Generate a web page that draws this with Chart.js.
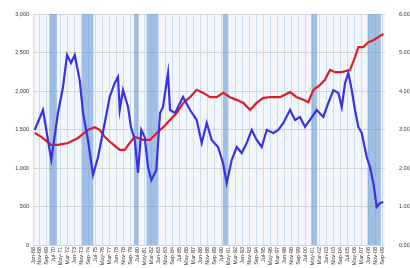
<!DOCTYPE html>
<html>
<head>
<meta charset="utf-8">
<script src="https://cdn.jsdelivr.net/npm/chart.js@4.4.1/dist/chart.umd.min.js"></script>
<style>
html,body{margin:0;padding:0;background:#fff;}
#wrap{width:410px;height:268px;}
</style>
</head>
<body>
<div id="wrap"><canvas id="c" width="410" height="268"></canvas></div>
<script>
// Housing starts (thousands, left axis) — dates as decimal years
const startsDates = [1968.20,1969.19,1969.59,1970.18,1970.98,1971.58,1972.06,1972.53,1972.98,1973.57,1973.97,1974.56,1975.16,1975.76,1976.56,1977.15,1977.75,1978.14,1978.35,1978.74,1979.34,1979.69,1980.14,1980.53,1980.92,1981.33,1981.72,1982.12,1982.71,1983.16,1983.51,1984.11,1984.35,1984.95,1985.90,1986.74,1987.53,1988.13,1988.73,1989.32,1990.08,1990.67,1991.11,1991.71,1992.31,1992.90,1993.50,1994.10,1994.69,1995.29,1995.89,1996.68,1997.27,1997.87,1998.67,1999.26,1999.86,2000.46,2001.05,2001.85,2002.64,2003.24,2003.84,2004.43,2004.84,2005.23,2005.63,2006.03,2006.42,2006.82,2007.22,2007.82,2008.21,2008.61,2009.01,2009.41,2009.80];
const startsValues = [1494,1753,1494,1104,1715,2052,2468,2364,2468,2143,1715,1364,909,1143,1585,1923,2104,2182,1753,2013,1792,1533,1364,935,1494,1403,1013,844,974,1715,1792,2234,1753,1715,1923,1753,1624,1325,1585,1364,1273,1065,805,1104,1273,1195,1325,1494,1364,1273,1494,1455,1494,1585,1753,1624,1663,1533,1624,1753,1663,1845,2013,1974,1792,2104,2234,2013,1753,1533,1455,1143,1013,805,494,546,559];

// Ratio series (right axis)
const ratioDates = [1968.20,1968.99,1970.18,1970.98,1972.18,1973.37,1974.56,1975.36,1975.96,1976.56,1977.34,1978.35,1978.94,1979.54,1980.14,1981.13,1981.96,1982.76,1983.55,1984.35,1985.15,1985.94,1986.74,1987.53,1988.32,1989.12,1989.92,1990.71,1991.51,1992.31,1993.10,1993.90,1994.69,1995.48,1996.28,1997.47,1998.67,1999.47,2000.26,2000.85,2001.45,2002.25,2002.84,2003.44,2004.04,2004.84,2005.83,2006.42,2006.82,2007.42,2008.01,2008.61,2009.20,2009.80];
const ratioValues = [2.91,2.81,2.60,2.60,2.65,2.78,2.99,3.06,2.99,2.81,2.65,2.47,2.47,2.65,2.81,2.73,2.73,2.91,3.06,3.25,3.43,3.69,3.84,4.03,3.95,3.84,3.84,3.95,3.84,3.77,3.69,3.51,3.69,3.82,3.84,3.84,3.97,3.84,3.77,3.71,4.03,4.16,4.29,4.55,4.49,4.49,4.55,4.88,5.14,5.14,5.27,5.32,5.40,5.48];

// Recession periods (decimal years)
const recessionStart = [1969.95,1973.85,1980.05,1981.55,1990.65,2001.2,2007.92];
const recessionEnd   = [1970.85,1975.2,1980.6,1982.9,1991.25,2001.9,2009.5];

// X-axis tick labels (every 10 months from Jan-68)
const xTickLabels = ["Jan-68","Nov-68","Sep-69","Jul-70","May-71","Mar-72","Jan-73","Nov-73","Sep-74","Jul-75","May-76","Mar-77","Jan-78","Nov-78","Sep-79","Jul-80","May-81","Mar-82","Jan-83","Nov-83","Sep-84","Jul-85","May-86","Mar-87","Jan-88","Nov-88","Sep-89","Jul-90","May-91","Mar-92","Jan-93","Nov-93","Sep-94","Jul-95","May-96","Mar-97","Jan-98","Nov-98","Sep-99","Jul-00","May-01","Mar-02","Jan-03","Nov-03","Sep-04","Jul-05","May-06","Mar-07","Jan-08","Nov-08","Sep-09"];
const leftTicks = [0,500,1000,1500,2000,2500,3000];
const rightTicks = [0,1,2,3,4,5,6];

const monthIdx = {Jan:0,Feb:1,Mar:2,Apr:3,May:4,Jun:5,Jul:6,Aug:7,Sep:8,Oct:9,Nov:10,Dec:11};
function labelToYear(s){
  const p = s.split('-');
  const yy = parseInt(p[1],10);
  return (yy < 50 ? 2000 : 1900) + yy + monthIdx[p[0]]/12;
}

const bgPlugin = {
  id:'bands',
  beforeDraw(chart){
    const {ctx, chartArea:a} = chart;
    ctx.save(); ctx.fillStyle = '#f3f7fc';
    ctx.fillRect(a.left, a.top, a.right-a.left, a.bottom-a.top); ctx.restore();
  },
  beforeDatasetsDraw(chart){
    const {ctx, chartArea:a, scales:{x}} = chart;
    ctx.save(); ctx.fillStyle = 'rgba(110,155,215,0.62)';
    for(let i=0;i<recessionStart.length;i++){
      const x0 = x.getPixelForValue(recessionStart[i]);
      const x1 = x.getPixelForValue(recessionEnd[i]);
      ctx.fillRect(x0, a.top, x1-x0, a.bottom-a.top);
    }
    ctx.restore();
  }
};
const tickFont = {family:'"Liberation Sans", Arial, sans-serif', size:5.5};

new Chart(document.getElementById('c'), {
  type:'line',
  data:{datasets:[
    {label:'Housing Starts', data: startsDates.map((d,i)=>({x:d,y:startsValues[i]})), borderColor:'#3a32e0', borderWidth:2.2, pointRadius:0, tension:0, yAxisID:'y'},
    {label:'Ratio', data: ratioDates.map((d,i)=>({x:d,y:ratioValues[i]})), borderColor:'#dc1f24', borderWidth:2.2, pointRadius:0, tension:0, yAxisID:'y1'}
  ]},
  options:{
    responsive:false, animation:false,
    layout:{padding:{top:14,left:0,right:0,bottom:0}},
    plugins:{legend:{display:false},tooltip:{enabled:false}},
    scales:{
      x:{type:'linear', min:1968, max:2010,
        afterBuildTicks(axis){ axis.ticks = xTickLabels.map(l=>({value:labelToYear(l)})); },
        afterFit(axis){ axis.paddingLeft = 0; axis.paddingRight = 0; axis.height = 23; },
        ticks:{autoSkip:false, maxRotation:90, minRotation:90, font:tickFont, color:'#333', padding:2, callback(v,i){ return xTickLabels[i]; }},
        grid:{color:'rgba(200,218,240,0.9)', drawTicks:false}, border:{display:false}},
      y:{position:'left', min:0, max:3000,
        afterBuildTicks(axis){ axis.ticks = leftTicks.map(v=>({value:v})); },
        afterFit(axis){ axis.width = 33; },
        ticks:{font:tickFont,color:'#333',padding:4,callback(v){ return v.toLocaleString('en-US'); }},
        grid:{color:'#d3d3d3', drawTicks:false}, border:{display:false}},
      y1:{position:'right', min:0, max:6,
        afterBuildTicks(axis){ axis.ticks = rightTicks.map(v=>({value:v})); },
        afterFit(axis){ axis.width = 25; },
        ticks:{font:tickFont,color:'#333',padding:6,callback(v){ return v.toFixed(2); }},
        grid:{display:false}, border:{display:false}}
    }
  },
  plugins:[bgPlugin]
});
</script>
</body>
</html>
